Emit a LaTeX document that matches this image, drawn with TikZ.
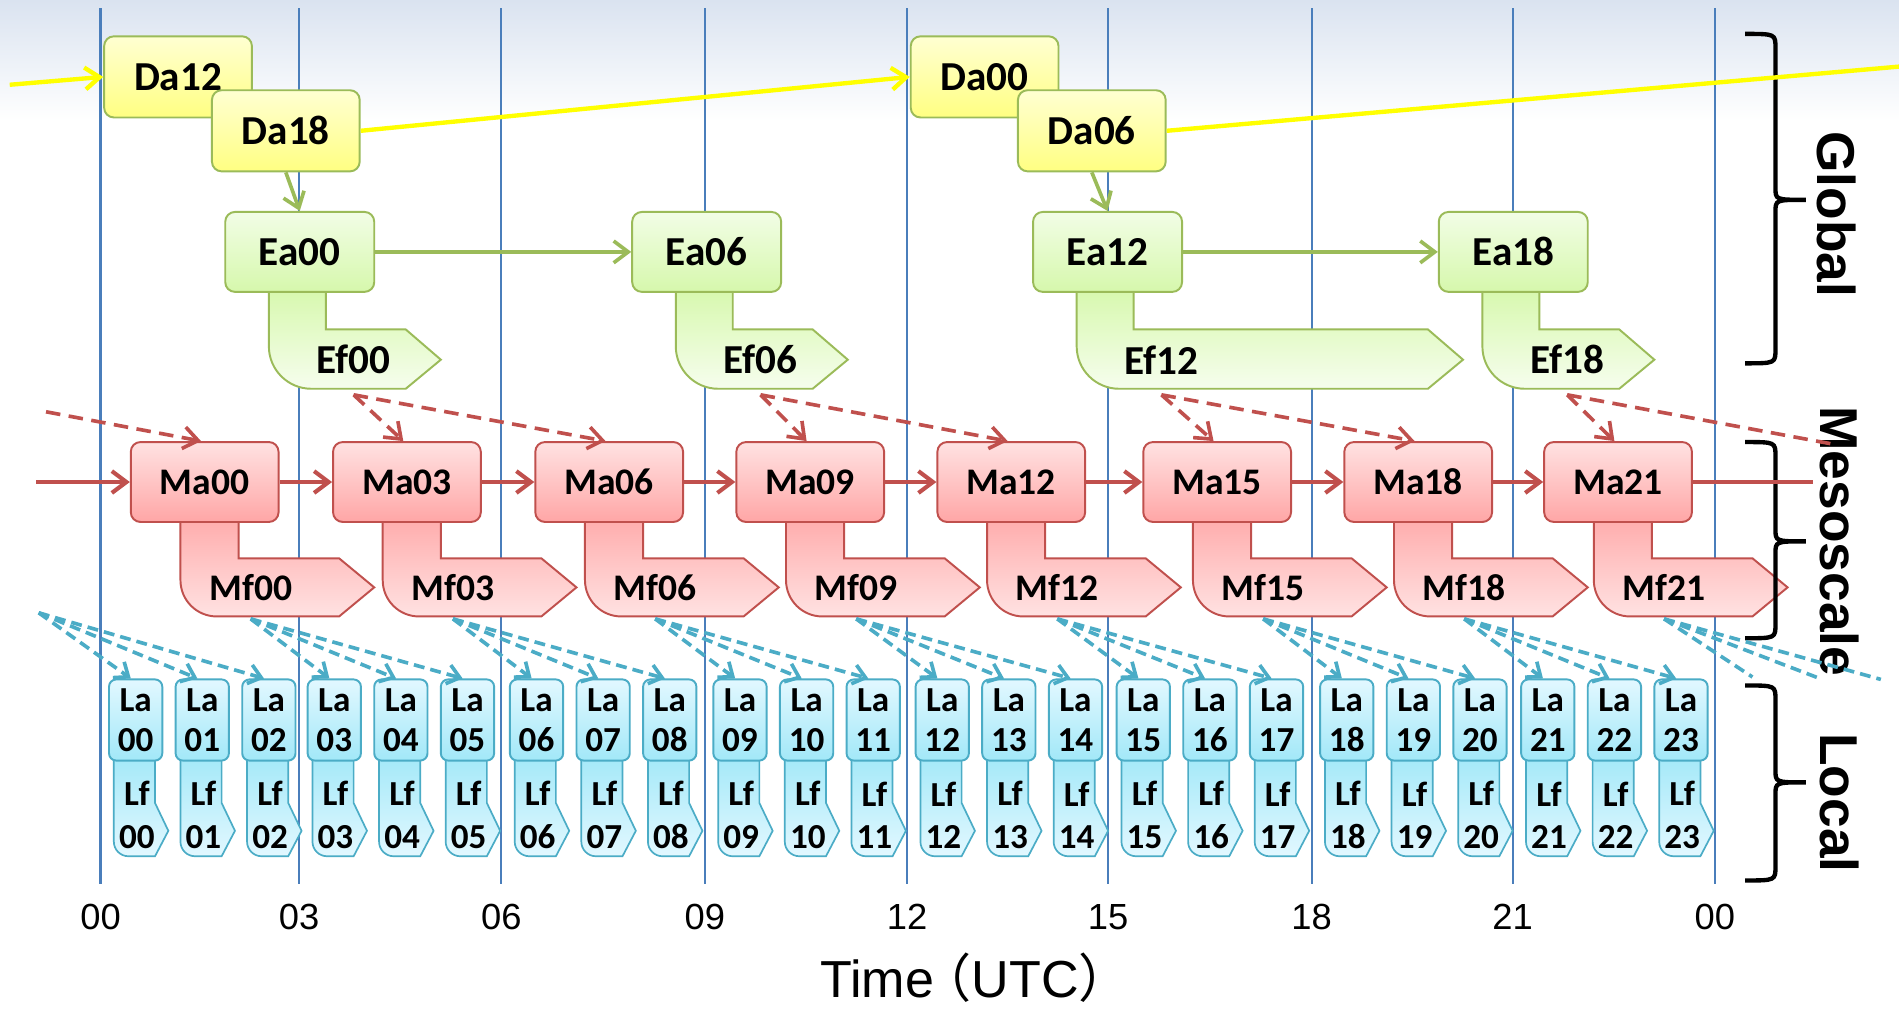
\documentclass[tikz,border=0pt]{standalone}
\usepackage{fontspec}
\setmainfont{Carlito}
\newfontfamily\axisfont{Liberation Sans}
\newfontfamily\cjkfont{Noto Sans CJK JP}
\usetikzlibrary{arrows.meta}

\definecolor{vline}{HTML}{4A7EBB}
\definecolor{gline}{HTML}{9BBB59}
\definecolor{rline}{HTML}{C0504D}
\definecolor{bline}{HTML}{4BACC6}
\definecolor{yline}{HTML}{FFFF00}
\definecolor{bgtop}{HTML}{DAE3F0}
\definecolor{datop}{HTML}{FFFFD2}
\definecolor{dabot}{HTML}{FFFF82}
\definecolor{eatop}{HTML}{F2FDE6}
\definecolor{eabot}{HTML}{D6F8AC}
\definecolor{matop}{HTML}{FFE2E2}
\definecolor{mabot}{HTML}{FFA6A6}
\definecolor{latop}{HTML}{E2F8FF}
\definecolor{labot}{HTML}{A2E8F8}

\newcommand\drawbrace[3]{%
  \draw[braceline] (1441,#1) .. controls (1466,#1) .. (1466,#1+12) -- (1466,#2-10)
    .. controls (1466,#2) .. (1491,#2) .. controls (1466,#2) .. (1466,#2+10)
    -- (1466,#3-12) .. controls (1466,#3) .. (1441,#3);}

\begin{document}
\begin{tikzpicture}[x=0.5pt,y=-0.5pt,
  tip/.style={-{Straight Barb[length=6pt,width=9pt]}},
  box/.style={rounded corners=4pt, line width=0.8pt, inner sep=0pt, align=center},
  dabox/.style={box, draw=gline, top color=datop, bottom color=dabot,
    minimum width=61pt, minimum height=33.5pt, font=\fontsize{17}{20}\selectfont\bfseries},
  eabox/.style={box, draw=gline, top color=eatop, bottom color=eabot,
    minimum width=61.5pt, minimum height=33pt, font=\fontsize{17}{20}\selectfont\bfseries},
  efshape/.style={draw=gline, line width=0.8pt, top color=eabot, bottom color=eatop!70!white},
  eftext/.style={inner sep=0pt, font=\fontsize{17}{20}\selectfont\bfseries},
  mabox/.style={box, draw=rline, top color=matop, bottom color=mabot,
    minimum width=61pt, minimum height=33pt, font=\fontsize{15.5}{18}\selectfont\bfseries},
  mfshape/.style={draw=rline, line width=0.8pt, top color=mabot!95!white, bottom color=matop},
  mftext/.style={inner sep=0pt, font=\fontsize{15.5}{18}\selectfont\bfseries},
  labox/.style={box, rounded corners=3pt, draw=bline, top color=latop, bottom color=labot,
    minimum width=22pt, minimum height=33.5pt, font=\fontsize{14.5}{16.5}\selectfont\bfseries},
  lfshape/.style={draw=bline, line width=0.7pt, top color=labot, bottom color=latop},
  lftext/.style={inner sep=0pt, align=center, font=\fontsize{14.5}{17.5}\selectfont\bfseries},
  yarrow/.style={yline, line width=1.8pt, tip},
  garrow/.style={gline, line width=1.5pt, tip},
  rarrow/.style={rline, line width=1.7pt, tip},
  rdash/.style={rline, line width=1.5pt, dash pattern=on 6pt off 3.5pt, tip},
  bdash/.style={bline, line width=1.5pt, dash pattern=on 4.5pt off 2.5pt,
    -{Straight Barb[length=5pt,width=8pt]}},
  braceline/.style={black, line width=1.8pt},
  axislabel/.style={inner sep=0pt, font=\axisfont\fontsize{15}{18}\selectfont},
  sidelabel/.style={inner sep=0pt, font=\axisfont\fontsize{22}{26}\selectfont\bfseries}
]
\useasboundingbox (0,0) rectangle (1568,834);
\fill[white] (0,0) rectangle (1568,834);
\fill[top color=bgtop, bottom color=white] (0,0) rectangle (1568,100);

% hour grid
\foreach \gx in {83,247,414,582,749,915,1083,1249,1416}
  \draw[vline, line width=0.9pt] (\gx,7) -- (\gx,730);

% time axis
\foreach \gx/\lab [count=\n] in {83/00,247/03,414/06,582/09,749/12,915/15,1083/18,1249/21,1416/00}
  \node[axislabel] (ax\n) at (\gx,757) {\lab};
\node[anchor=base west, inner sep=0pt, font=\axisfont\fontsize{21.5}{26}\selectfont] (timelabel)
  at (677,824) {Time\kern-6pt{\cjkfont（}UTC{\cjkfont）}};

% global: extended forecasts
\foreach \h/\L/\T in {00/186/364, 06/522/700, 12/853/1208, 18/1188/1366} {
  \path[efshape] (\L+36,236) -- (\L+83,236) -- (\L+83,272) -- (\T-29,272) -- (\T,297)
    -- (\T-29,321) -- (\L+71,321) .. controls (\L+51.7,321) and (\L+36,305.3) .. (\L+36,286) -- cycle;
  \node[eftext] (ef\h) at (\L+106,297) {Ef\h};
  \coordinate (ef\h-b) at (\L+106,326);
}
\foreach \h/\L in {00/186, 06/522, 12/853, 18/1188}
  \node[eabox] (ea\h) at (\L+61.5,208) {Ea\h};

\node[dabox] (da12) at (147,63.5) {Da12};
\node[dabox] (da18) at (236,108) {Da18};
\node[dabox] (da00) at (813,63.5) {Da00};
\node[dabox] (da06) at (901.5,108) {Da06};

% mesoscale
\foreach \h/\L in {00/108,03/275,06/442,09/608,12/774,15/944,18/1110,21/1275} {
  \path[mfshape] (\L+41,425) -- (\L+89,425) -- (\L+89,461) -- (\L+172,461) -- (\L+201,485)
    -- (\L+172,509) -- (\L+71,509) .. controls (\L+54.4,509) and (\L+41,495.6) .. (\L+41,479) -- cycle;
  \node[mftext] (mf\h) at (\L+99,485) {Mf\h};
  \coordinate (mf\h-b) at (\L+99,511);
  \node[mabox] (ma\h) at (\L+61,398) {Ma\h};
}

% local
\foreach \gx [count=\i from 0] in {83,247,414,582,749,915,1083,1249} {
  \foreach \k in {0,1,2} {
    \pgfmathtruncatemacro\hr{3*\i+\k}
    \edef\hh{\ifnum\hr<10 0\fi\hr}
    \pgfmathsetmacro\X{\gx+7+55*\k}
    \path[lfshape] (\X+4,622) -- (\X+38,622) -- (\X+38,663) -- (\X+49,686) -- (\X+38,707)
      -- (\X+16,707) .. controls (\X+9.4,707) and (\X+4,701.6) .. (\X+4,695) -- cycle;
    \node[lftext] (lf\hh) at (\X+23,673) {Lf\\\hh};
    \node[labox] (la\hh) at (\X+22,594.5) {La\\\hh};
  }
}

% scale braces and their labels
\drawbrace{28}{165}{300}
\drawbrace{365}{447}{527}
\drawbrace{566}{646}{727}
\node[sidelabel, rotate=-90, anchor=base] (global) at (1501,177) {Global};
\node[sidelabel, rotate=-90, anchor=base] (meso) at (1503,447) {Mesoscale};
\node[sidelabel, rotate=-90, anchor=base] (local) at (1503,663) {Local};

% analysis cycle of the global model
\coordinate (yin) at (8,70);
\coordinate (yout) at (1568,55);
\draw[yarrow] (yin) -- (da12.west);
\draw[yarrow] (da18.east) -- (da00.west);
\draw[yline, line width=1.8pt] (da06.east) -- (yout);
\draw[garrow] (da18.south) -- (ea00.north);
\draw[garrow] (da06.south) -- (ea12.north);
\draw[garrow] (ea00.east) -- (ea06.west);
\draw[garrow] (ea12.east) -- (ea18.west);

% mesoscale cycle
\coordinate (min) at (30,398);
\coordinate (mout) at (1497,398);
\draw[rarrow] (min) -- (ma00.west);
\foreach \a/\b in {00/03,03/06,06/09,09/12,12/15,15/18,18/21}
  \draw[rarrow] (ma\a.east) -- (ma\b.west);
\draw[rline, line width=1.7pt] (ma21.east) -- (mout);

% boundary data from global forecasts
\coordinate (rdin) at (38,340);
\coordinate (rdout) at (1515,367);
\draw[rdash] (rdin) -- ([xshift=-1.5pt]ma00.north);
\foreach \s/\a/\b in {00/03/06, 06/09/12, 12/15/18} {
  \draw[rdash] (ef\s-b) -- ([xshift=-1.5pt]ma\a.north);
  \draw[rdash] (ef\s-b) -- ([xshift=-1.5pt]ma\b.north);
}
\draw[rdash] (ef18-b) -- ([xshift=-1.5pt]ma21.north);
\draw[rline, line width=1.5pt, dash pattern=on 6pt off 3.5pt] (ef18-b) -- (rdout);

% boundary data from mesoscale forecasts
\coordinate (bdin) at (32,506);
\coordinate (bdout1) at (1447,559);
\coordinate (bdout2) at (1502,560);
\coordinate (bdout3) at (1553,561);
\foreach \s/\a/\b/\c in {bdin/00/01/02, mf00-b/03/04/05, mf03-b/06/07/08, mf06-b/09/10/11,
    mf09-b/12/13/14, mf12-b/15/16/17, mf15-b/18/19/20, mf18-b/21/22/23}
  \foreach \t in {\a,\b,\c}
    \draw[bdash] (\s) -- ([xshift=-2pt]la\t.north);
\foreach \t in {bdout1,bdout2,bdout3}
  \draw[bline, line width=1.5pt, dash pattern=on 4.5pt off 2.5pt] (mf21-b) -- (\t);
\end{tikzpicture}
\end{document}
